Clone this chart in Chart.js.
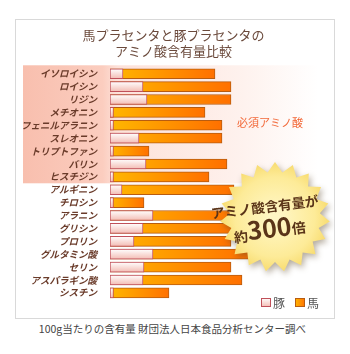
<!DOCTYPE html>
<html lang="ja">
<head>
<meta charset="utf-8">
<script src="https://cdn.jsdelivr.net/npm/chart.js@4.4.1/dist/chart.umd.min.js"></script>
<style>
    body { margin: 0; background: #fff; width: 350px; height: 354px; position: relative; overflow: hidden; }
    #frame { position: absolute; left: 15px; top: 19px; width: 318px; height: 298px; border: 1px solid #d9d9d9; background: #fff; }
    #aminoChart { display: block; }
    #source { position: absolute; left: 0; top: 321px; width: 345px; text-align: center; font: 10.5px "Noto Sans CJK JP", sans-serif; color: #444; }
</style>
</head>
<body>
<div id="frame"><canvas id="aminoChart" width="318" height="298"></canvas></div>
<div id="source">100g当たりの含有量 財団法人日本食品分析センター調べ</div>
<script>
const titleLines = ["馬プラセンタと豚プラセンタの", "アミノ酸含有量比較"];
const aminoAcids = [
    "イソロイシン", "ロイシン", "リジン", "メチオニン", "フェニルアラニン",
    "スレオニン", "トリプトファン", "バリン", "ヒスチジン", "アルギニン",
    "チロシン", "アラニン", "グリシン", "プロリン", "グルタミン酸",
    "セリン", "アスパラギン酸", "シスチン"
];
// relative amounts (no axis in the original)
const pigValues = [13, 33, 37, 3.5, 3.5, 29, 3.5, 36, 3.5, 12, 3.5, 43, 33, 24, 43, 34, 33, 3.5];
const horseValues = [105, 121, 121, 95, 112, 112, 39, 117, 99, 124, 34, 130, 127, 121, 139, 121, 132, 59];
const essentialCount = 9;
const essentialLabel = "必須アミノ酸";
const badgeLines = ["アミノ酸含有量が", "約", "300", "倍"];
const legendNames = ["豚", "馬"];

const FONT = '"Noto Sans CJK JP", "Noto Sans", sans-serif';
Chart.defaults.font.family = FONT;

function horseFill(context) {
    const { ctx, chartArea, scales } = context.chart;
    if (!chartArea || context.raw === undefined) return "#ff9600";
    const start = scales.x.getPixelForValue(0);
    const end = scales.x.getPixelForValue(context.raw);
    const g = ctx.createLinearGradient(start, 0, end, 0);
    g.addColorStop(0, "#ffb800");
    g.addColorStop(1, "#ff7000");
    return g;
}

function pigFill(context) {
    const { ctx, chartArea, scales } = context.chart;
    if (!chartArea || context.raw === undefined) return "#fbe0da";
    const y = scales.y.getPixelForValue(context.dataIndex);
    const g = ctx.createLinearGradient(0, y - 5, 0, y + 5);
    g.addColorStop(0, "#ffffff");
    g.addColorStop(1, "#f3bcb3");
    return g;
}

// pink band behind the essential amino acids
const essentialBand = {
    id: "essentialBand",
    beforeDraw(chart) {
        const { ctx, scales } = chart;
        const step = scales.y.getPixelForValue(1) - scales.y.getPixelForValue(0);
        const top = scales.y.getPixelForValue(0) - step / 2 - 2;
        const bottom = scales.y.getPixelForValue(essentialCount - 1) + step / 2;
        const left = 7, right = 302;
        const g = ctx.createLinearGradient(left, 0, right, 0);
        g.addColorStop(0, "#f8bfae");
        g.addColorStop(0.27, "#fbcdbf");
        g.addColorStop(0.32, "#fde1d9");
        g.addColorStop(0.75, "#fef2ee");
        g.addColorStop(1, "#ffffff");
        ctx.save();
        ctx.fillStyle = g;
        ctx.fillRect(left, top, right - left, bottom - top);
        ctx.fillStyle = "#f26838";
        ctx.font = "11px " + FONT;
        ctx.textAlign = "center";
        ctx.textBaseline = "middle";
        ctx.fillText(essentialLabel, 254, 103);
        ctx.restore();
    }
};

// yellow starburst with the 300x message
const starBadge = {
    id: "starBadge",
    afterDatasetsDraw(chart) {
        const ctx = chart.ctx;
        const cx = 259, cy = 197, outer = 55, inner = 45, points = 19;
        ctx.save();
        ctx.beginPath();
        for (let i = 0; i < points * 2; i++) {
            const r = i % 2 === 0 ? outer : inner;
            const a = -Math.PI / 2 + i * Math.PI / points;
            const px = cx + r * Math.cos(a);
            const py = cy + r * Math.sin(a);
            if (i === 0) ctx.moveTo(px, py); else ctx.lineTo(px, py);
        }
        ctx.closePath();
        const g = ctx.createRadialGradient(cx, cy, 5, cx, cy, outer);
        g.addColorStop(0, "#fff6c4");
        g.addColorStop(0.7, "#fdeb98");
        g.addColorStop(1, "#f8dc70");
        ctx.fillStyle = g;
        ctx.shadowColor = "rgba(90, 70, 40, 0.45)";
        ctx.shadowBlur = 6;
        ctx.shadowOffsetX = 2;
        ctx.shadowOffsetY = 3;
        ctx.fill();
        ctx.restore();

        ctx.save();
        ctx.fillStyle = "#5a3418";
        ctx.textBaseline = "middle";
        ctx.translate(250, 197);
        ctx.rotate(-7 * Math.PI / 180);
        ctx.textAlign = "center";
        ctx.font = "bold 13.5px " + FONT;
        ctx.fillText(badgeLines[0], 0, -10);
        const small = "bold 14px " + FONT, big = "bold 25px " + FONT;
        ctx.font = small;
        const w1 = ctx.measureText(badgeLines[1]).width;
        const w3 = ctx.measureText(badgeLines[3]).width;
        ctx.font = big;
        const w2 = ctx.measureText(badgeLines[2]).width;
        let x = 2 - (w1 + w2 + w3) / 2;
        ctx.textAlign = "left";
        ctx.textBaseline = "alphabetic";
        ctx.font = small;
        ctx.fillText(badgeLines[1], x, 22);
        x += w1;
        ctx.font = big;
        ctx.fillText(badgeLines[2], x, 21);
        x += w2;
        ctx.font = small;
        ctx.fillText(badgeLines[3], x, 20);
        ctx.restore();
    }
};

// small legend in the lower right corner
const cornerLegend = {
    id: "cornerLegend",
    afterDraw(chart) {
        const ctx = chart.ctx;
        const items = [
            { x: 245, fill: ["#ffffff", "#f3bcb3"], stroke: "#c0505a", dir: "v" },
            { x: 279, fill: ["#ffb800", "#ff7000"], stroke: "#b85c10", dir: "h" }
        ];
        const y = 278;
        ctx.save();
        items.forEach(function (item, i) {
            const g = item.dir === "v"
                ? ctx.createLinearGradient(0, y, 0, y + 9)
                : ctx.createLinearGradient(item.x, 0, item.x + 10, 0);
            g.addColorStop(0, item.fill[0]);
            g.addColorStop(1, item.fill[1]);
            ctx.fillStyle = g;
            ctx.fillRect(item.x, y, 10, 9);
            ctx.strokeStyle = item.stroke;
            ctx.lineWidth = 1;
            ctx.strokeRect(item.x + 0.5, y + 0.5, 9, 8);
            ctx.fillStyle = "#555";
            ctx.font = "12px " + FONT;
            ctx.textBaseline = "middle";
            ctx.fillText(legendNames[i], item.x + 12, y + 5);
        });
        ctx.restore();
    }
};

const chart = new Chart(document.getElementById("aminoChart"), {
    type: "bar",
    data: {
        labels: aminoAcids,
        datasets: [
            {
                label: legendNames[0],
                data: pigValues,
                backgroundColor: pigFill,
                borderColor: "#c0505a",
                borderWidth: 1,
                borderSkipped: false,
                barThickness: 10
            },
            {
                label: legendNames[1],
                data: horseValues,
                backgroundColor: horseFill,
                borderColor: "#b85c10",
                borderWidth: 1,
                borderSkipped: false,
                barThickness: 10
            }
        ]
    },
    options: {
        indexAxis: "y",
        responsive: false,
        animation: false,
        layout: { padding: { left: 5, right: 8, top: 0, bottom: 9 } },
        scales: {
            x: { display: false, min: 0, max: 216, stacked: false },
            y: {
                stacked: true,
                grid: { display: false, drawTicks: false },
                border: { display: false },
                afterFit: function (scale) { scale.width = 89; },
                ticks: {
                    autoSkip: false,
                    padding: 13,
                    color: "#6a3b2a",
                    font: { size: 9.5, weight: "bold", style: "italic" }
                }
            }
        },
        plugins: {
            legend: { display: false },
            tooltip: { enabled: false },
            title: {
                display: true,
                text: titleLines,
                color: "#6b4a3c",
                font: { size: 13, weight: "normal", lineHeight: 1.23 },
                padding: { top: 7, bottom: 8.3 }
            }
        }
    },
    plugins: [essentialBand, starBadge, cornerLegend]
});
</script>
</body>
</html>
